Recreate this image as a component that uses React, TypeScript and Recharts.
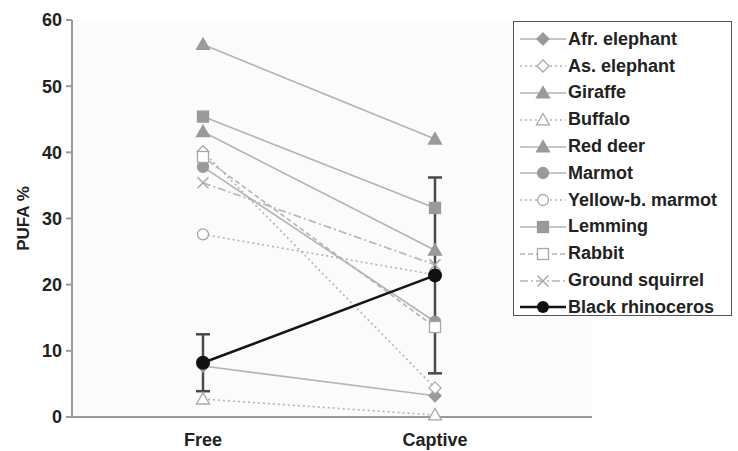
import React from 'react';
import { LineChart, Line, XAxis, YAxis, ErrorBar, CartesianGrid } from 'recharts';

const categories = ['Free', 'Captive'];

const afrElephant = [7.7, 3.2];
const asElephant = [40.1, 4.4];
const giraffe = [56.3, 42.0];
const buffalo = [2.7, 0.3];
const redDeer = [43.1, 25.2];
const marmot = [37.8, 14.4];
const yellowMarmot = [27.6, 21.5];
const lemming = [45.4, 31.6];
const rabbit = [39.3, 13.6];
const groundSquirrel = [35.4, 23.0];
const blackRhino = [8.2, 21.4];
const blackRhinoErr = [4.3, 14.8];

const yTicks = [0, 10, 20, 30, 40, 50, 60];

const GRAY_LINE = '#b4b4b4';
const GRAY_MARK = '#9a9a9a';
const FONT = '"Liberation Sans", Arial, sans-serif';

type Shape = 'diamond' | 'triangle' | 'circle' | 'square' | 'cross';

interface Series {
  key: string;
  name: string;
  values: number[];
  shape: Shape;
  open: boolean;
  dash?: string;
}

const series: Series[] = [
  { key: 'afr', name: 'Afr. elephant', values: afrElephant, shape: 'diamond', open: false },
  { key: 'as', name: 'As. elephant', values: asElephant, shape: 'diamond', open: true, dash: '2 3' },
  { key: 'giraffe', name: 'Giraffe', values: giraffe, shape: 'triangle', open: false },
  { key: 'buffalo', name: 'Buffalo', values: buffalo, shape: 'triangle', open: true, dash: '2 3' },
  { key: 'deer', name: 'Red deer', values: redDeer, shape: 'triangle', open: false },
  { key: 'marmot', name: 'Marmot', values: marmot, shape: 'circle', open: false },
  { key: 'ymarmot', name: 'Yellow-b. marmot', values: yellowMarmot, shape: 'circle', open: true, dash: '2 3' },
  { key: 'lemming', name: 'Lemming', values: lemming, shape: 'square', open: false },
  { key: 'rabbit', name: 'Rabbit', values: rabbit, shape: 'square', open: true, dash: '5 3' },
  { key: 'squirrel', name: 'Ground squirrel', values: groundSquirrel, shape: 'cross', open: true, dash: '8 3 2 3' },
];

const data = categories.map((c, i) => {
  const row: any = { cat: c, rhino: blackRhino[i], rhinoErr: blackRhinoErr[i] };
  series.forEach(s => { row[s.key] = s.values[i]; });
  return row;
});

function Marker({ shape, open, cx, cy }: { shape: Shape; open: boolean; cx: number; cy: number }) {
  const fill = open ? '#fff' : GRAY_MARK;
  const stroke = open ? '#a8a8a8' : GRAY_MARK;
  const sw = 1.3;
  if (shape === 'diamond') {
    const r = 6;
    return <polygon points={`${cx},${cy - r} ${cx + r},${cy} ${cx},${cy + r} ${cx - r},${cy}`} fill={fill} stroke={stroke} strokeWidth={sw} />;
  }
  if (shape === 'triangle') {
    const r = 6.5;
    return <polygon points={`${cx},${cy - r} ${cx + r},${cy + r * 0.75} ${cx - r},${cy + r * 0.75}`} fill={fill} stroke={stroke} strokeWidth={sw} />;
  }
  if (shape === 'circle') {
    return <circle cx={cx} cy={cy} r={5.5} fill={fill} stroke={stroke} strokeWidth={sw} />;
  }
  if (shape === 'square') {
    const r = 5.5;
    return <rect x={cx - r} y={cy - r} width={r * 2} height={r * 2} fill={fill} stroke={stroke} strokeWidth={sw} />;
  }
  const r = 5.5;
  return (
    <g stroke={stroke} strokeWidth={1.5}>
      <line x1={cx - r} y1={cy - r} x2={cx + r} y2={cy + r} />
      <line x1={cx - r} y1={cy + r} x2={cx + r} y2={cy - r} />
    </g>
  );
}

function LegendBox() {
  const rows = [
    ...series.map(s => ({ name: s.name, icon: (
      <svg width={50} height={20}>
        <line x1={2} y1={10} x2={48} y2={10} stroke={GRAY_LINE} strokeWidth={1.5} strokeDasharray={s.dash} />
        <Marker shape={s.shape} open={s.open} cx={25} cy={10} />
      </svg>
    ) })),
    { name: 'Black rhinoceros', icon: (
      <svg width={50} height={20}>
        <line x1={2} y1={10} x2={48} y2={10} stroke="#111" strokeWidth={2.5} />
        <circle cx={25} cy={10} r={6} fill="#111" />
      </svg>
    ) },
  ];
  return (
    <div style={{
      position: 'absolute', left: 513, top: 21, border: '1.5px solid #555', background: '#fff', width: 219, height: 295,
      boxSizing: 'border-box', padding: '4px 0 0 4px', fontFamily: FONT, fontWeight: 700, fontSize: 18, color: '#222',
    }}>
      {rows.map(r => (
        <div key={r.name} style={{ display: 'flex', alignItems: 'center', height: 26.8 }}>
          {r.icon}
          <span style={{ marginLeft: 0, whiteSpace: 'nowrap' }}>{r.name}</span>
        </div>
      ))}
    </div>
  );
}

export default function App() {
  return (
    <div style={{ position: 'absolute', left: 0, top: 0, width: 738, height: 451, background: '#fff' }}>
      <LineChart width={738} height={451} data={data} margin={{ top: 20, right: 146, bottom: 4, left: 22 }}>
        <CartesianGrid horizontal={false} vertical={false} fill="#fbfbfb" />
        <XAxis
          dataKey="cat"
          padding={{ left: 131, right: 157 }}
          height={30}
          stroke="#9a9a9a"
          strokeWidth={2}
          tickLine={false}
          tick={{ fill: '#222', fontSize: 18, fontWeight: 700, fontFamily: FONT }}
          tickMargin={10}
        />
        <YAxis
          domain={[0, 60]}
          ticks={yTicks}
          width={50}
          stroke="#9a9a9a"
          strokeWidth={2}
          tickSize={6}
          tickMargin={4}
          tick={{ fill: '#222', fontSize: 18, fontWeight: 700, fontFamily: FONT }}
          label={{ value: 'PUFA %', angle: -90, position: 'insideLeft', offset: 1, style: { fill: '#222', fontSize: 17, fontWeight: 700, fontFamily: FONT, textAnchor: 'middle' } }}
        />
        {series.map(s => (
          <Line
            key={s.key}
            dataKey={s.key}
            name={s.name}
            type="linear"
            stroke={GRAY_LINE}
            strokeWidth={1.6}
            strokeDasharray={s.dash}
            isAnimationActive={false}
            dot={(p: any) => <Marker key={`${s.key}-${p.index}`} shape={s.shape} open={s.open} cx={p.cx} cy={p.cy} />}
            activeDot={false}
          />
        ))}
        <Line
          dataKey="rhino"
          name="Black rhinoceros"
          type="linear"
          stroke="#151515"
          strokeWidth={2.5}
          isAnimationActive={false}
          dot={{ r: 7, fill: '#111', stroke: '#111', strokeWidth: 0 }}
          activeDot={false}
        >
          <ErrorBar dataKey="rhinoErr" width={7} stroke="#4a4a4a" strokeWidth={2.5} direction="y" />
        </Line>
      </LineChart>
      <LegendBox />
    </div>
  );
}
